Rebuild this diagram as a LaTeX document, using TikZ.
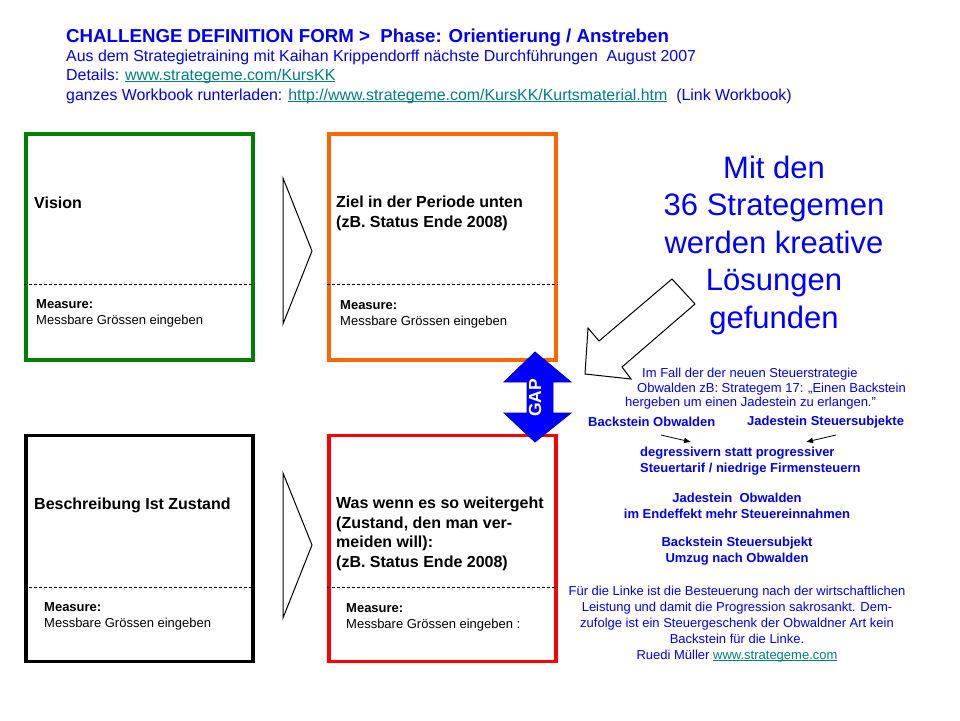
\documentclass[tikz,border=0pt]{standalone}
\usepackage{fontspec}
\setmainfont{Liberation Sans}
\usetikzlibrary{arrows.meta,positioning}
\definecolor{visgreen}{RGB}{0,128,0}
\definecolor{goalorange}{RGB}{255,102,0}
\definecolor{linkteal}{RGB}{0,128,128}
\newcommand{\px}[2]{\fontsize{#1}{#2}\selectfont}
\newcommand{\weblink}[1]{\textcolor{linkteal}{\setbox0\hbox{#1}\rlap{\rule[-1.8pt]{\wd0}{0.8pt}}\box0}}

\begin{document}
\begin{tikzpicture}[
    x=1pt, y=-1pt,
    frame/.style={draw, line width=3.5pt, minimum width=227pt, minimum height=226pt, inner sep=0pt},
    divider/.style={line width=1pt, dash pattern=on 3pt off 2pt},
    heading/.style={anchor=west, inner sep=0pt, align=left, font=\bfseries\px{16}{19.5}},
    measure/.style={anchor=west, inner sep=0pt, align=left, font=\px{13}{16}},
    chevron/.style={line width=1pt, line join=miter},
    header/.style={anchor=west, inner sep=0pt, text=blue, font=\px{15.9}{19}},
    note/.style={inner sep=0pt, text=blue, align=center, font=\px{13}{16}},
    boldnote/.style={note, font=\bfseries\px{13}{16}},
    pointer/.style={-{Latex[length=7pt,width=6pt]}, line width=0.8pt},
    gaparrow/.style={fill=blue, draw=blue!80!black, line width=0.8pt}
  ]
    \useasboundingbox (0,0) rectangle (960,720);

    \node[header, font=\bfseries\px{18.7}{22}] (title) at (66,38) {CHALLENGE DEFINITION FORM >\ \ Phase: Orientierung / Anstreben};
    \node[header] (training) at (66,57) {Aus dem Strategietraining mit Kaihan Krippendorff nächste Durchführungen\ \ August 2007};
    \node[header] (details) at (66,76) {Details: \weblink{www.strategeme.com/KursKK}};
    \node[header] (workbook) at (66,96) {ganzes Workbook runterladen: \weblink{http://www.strategeme.com/KursKK/Kurtsmaterial.htm}\ \ (Link Workbook)};

    \node[frame, draw=visgreen] (vision) at (139.5,247) {};
    \node[frame, draw=goalorange] (goal) at (442.5,247) {};
    \node[frame, draw=black] (current) at (139.5,548.5) {};
    \node[frame, draw=red] (future) at (442.5,548.5) {};

    \draw[divider] (vision.west |- 0,284) -- (vision.east |- 0,284);
    \draw[divider] (goal.west |- 0,284) -- (goal.east |- 0,284);
    \draw[divider] (current.west |- 0,587) -- (current.east |- 0,587);
    \draw[divider] (future.west |- 0,587) -- (future.east |- 0,587);

    \node[heading] (visiontext) at (34,203) {Vision};
    \node[heading] (goaltext) at (336,213.5) {Ziel in der Periode unten\\(zB. Status Ende 2008)};
    \node[heading] (currenttext) at (34,505) {Beschreibung Ist Zustand};
    \node[heading] (futuretext) at (336,534) {Was wenn es so weitergeht\\(Zustand, den man ver-\\meiden will):\\(zB. Status Ende 2008)};

    \node[measure] (visionmeasure) at (36,313.5) {\textbf{Measure:}\\Messbare Grössen eingeben};
    \node[measure] (goalmeasure) at (340,314) {\textbf{Measure:}\\Messbare Grössen eingeben};
    \node[measure] (currentmeasure) at (44,616) {\textbf{Measure:}\\Messbare Grössen eingeben};
    \node[measure] (futuremeasure) at (346,617) {\textbf{Measure:}\\Messbare Grössen eingeben :};

    \draw[chevron] (283,178) -- (312,251) -- (283,324) -- cycle;
    \draw[chevron] (283,473) -- (312,545) -- (283,618) -- cycle;

    \draw[gaparrow] (535,352) -- (571,382) -- (553,382) -- (553,413) -- (571,413) -- (535,442)
      -- (504,413) -- (527,413) -- (527,382) -- (504,382) -- cycle;
    \node[rotate=90, inner sep=0pt, text=white, font=\bfseries\px{17.5}{17.5}] (gap) at (535,398) {GAP};

    \node[inner sep=0pt, text=blue, align=center, font=\px{31}{37.5}] (slogan) at (774,245)
      {Mit den\\36 Strategemen\\werden kreative\\Lösungen\\gefunden};
    \draw[chevron] (599,341) -- (672,279) -- (695,304) -- (622,367) -- (631,379) -- (585,374) -- (588,328) -- cycle;

    \node[note, anchor=west] (case1) at (642,374) {Im Fall der der neuen Steuerstrategie};
    \node[note, anchor=west] (case2) at (637,389) {Obwalden zB: Strategem 17: „Einen Backstein};
    \node[note, anchor=west] (case3) at (625,403) {hergeben um einen Jadestein zu erlangen."};
    \node[boldnote, anchor=west] (brickobw) at (588,422) {Backstein Obwalden};
    \node[boldnote, anchor=west] (jadesubj) at (747,422) {Jadestein Steuersubjekte};
    \node[boldnote, anchor=west, align=left] (tariff) at (640,461) {degressivern statt progressiver\\Steuertarif / niedrige Firmensteuern};
    \coordinate (brickfrom) at (661,435);
    \coordinate (brickto) at (691,442);
    \coordinate (jadefrom) at (836,435);
    \coordinate (jadeto) at (806,442);
    \draw[pointer] (brickfrom) -- (brickto);
    \draw[pointer] (jadefrom) -- (jadeto);

    \node[boldnote] (jadeobw) at (737,506) {Jadestein\ \ Obwalden\\im Endeffekt mehr Steuereinnahmen};
    \node[boldnote] (bricksubj) at (737,551) {Backstein Steuersubjekt\\Umzug nach Obwalden};
    \node[note] (comment) at (737,624) {Für die Linke ist die Besteuerung nach der wirtschaftlichen\\Leistung und damit die Progression sakrosankt. Dem-\\zufolge ist ein Steuergeschenk der Obwaldner Art kein\\Backstein für die Linke.\\Ruedi Müller \weblink{www.strategeme.com}};
  \end{tikzpicture}
\end{document}
